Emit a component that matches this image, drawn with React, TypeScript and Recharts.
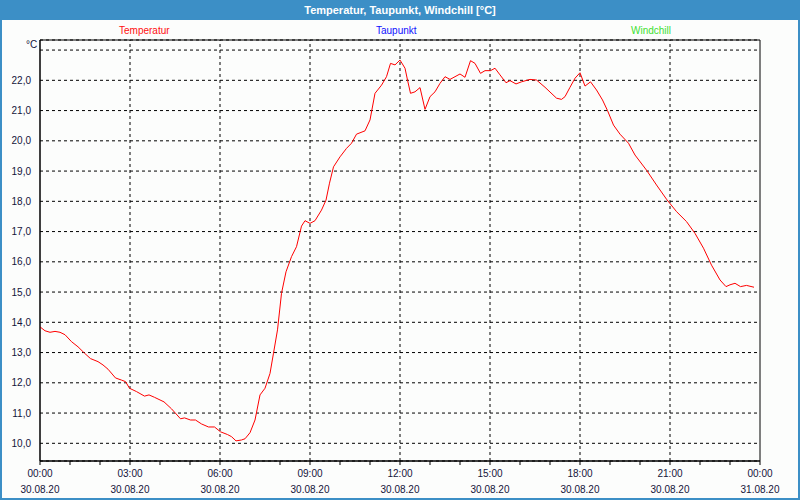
import { LineChart, Line, XAxis, YAxis, CartesianGrid, ReferenceLine, ReferenceArea } from 'recharts';

// minutes since 30.08.20 00:00
const minutes = [
  0, 10, 20, 30, 40, 50, 63, 76, 89, 101, 116, 126, 136, 151, 163, 171, 179, 193, 209, 218, 229, 248, 263, 281, 289,
  301, 311, 323, 337, 349, 361, 375, 383, 392, 403, 410, 420, 430, 440, 450, 460, 467, 475, 483, 492, 503, 513, 523,
  530, 540, 550, 563, 572, 579, 587, 600, 613, 623, 633, 650, 660, 670, 683, 693, 701, 710, 720, 730, 735, 741, 750,
  760, 770, 780, 790, 800, 810, 820, 840, 850, 861, 870, 881, 890, 901, 910, 920, 932, 940, 952, 963, 980, 993, 1010,
  1033, 1043, 1050, 1060, 1070, 1080, 1090, 1101, 1113, 1125, 1135, 1147, 1160, 1177, 1190, 1213, 1233, 1253, 1273,
  1293, 1310, 1327, 1343, 1360, 1372, 1380, 1390, 1401, 1413, 1428,
];
const temperatur = [
  13.85, 13.72, 13.67, 13.7, 13.67, 13.59, 13.36, 13.19, 12.98, 12.8, 12.7, 12.59, 12.45, 12.16, 12.09, 12.04, 11.82,
  11.71, 11.56, 11.6, 11.52, 11.37, 11.14, 10.81, 10.84, 10.77, 10.77, 10.64, 10.54, 10.54, 10.38, 10.29, 10.22, 10.08,
  10.11, 10.15, 10.35, 10.77, 11.6, 11.82, 12.31, 12.98, 13.75, 14.96, 15.67, 16.17, 16.5, 17.18, 17.36, 17.27, 17.36,
  17.71, 18.04, 18.6, 19.14, 19.47, 19.75, 19.92, 20.22, 20.33, 20.69, 21.57, 21.84, 22.12, 22.56, 22.51, 22.67, 22.4,
  22.01, 21.57, 21.62, 21.76, 21.04, 21.46, 21.62, 21.9, 22.12, 22.03, 22.21, 22.1, 22.65, 22.56, 22.23, 22.32, 22.32,
  22.4, 22.18, 21.92, 21.99, 21.88, 21.95, 22.03, 22.01, 21.77, 21.41, 21.37, 21.46, 21.77, 22.07, 22.25, 21.81, 21.95,
  21.68, 21.35, 21.0, 20.52, 20.22, 19.92, 19.53, 19.03, 18.54, 18.07, 17.66, 17.33, 16.94, 16.45, 15.89, 15.4, 15.18,
  15.24, 15.29, 15.18, 15.22, 15.16,
];

const hourTicks = [0, 60, 120, 180, 240, 300, 360, 420, 480, 540, 600, 660, 720, 780, 840, 900, 960, 1020, 1080, 1140, 1200, 1260, 1320, 1380, 1440];
const gridX = [180, 360, 540, 720, 900, 1080, 1260];
const tempTicks = [10, 11, 12, 13, 14, 15, 16, 17, 18, 19, 20, 21, 22, 23];
const legendItems = [
  { name: 'Temperatur', color: '#ff1010', left: 119 },
  { name: 'Taupunkt', color: '#1010ff', left: 376 },
  { name: 'Windchill', color: '#40e030', left: 631 },
];

const data = minutes.map((m, i) => ({ m, t: temperatur[i] }));

const FONT = '"Liberation Sans", Arial, sans-serif';
const TEXT = '#14143a';
const Y_MIN = 9.415;
const Y_MAX = 23.333;

function pad(n: number) {
  return n < 10 ? '0' + n : '' + n;
}

function TimeTick(props: any) {
  const { x, y, payload } = props;
  const v = payload.value as number;
  if (v % 180 !== 0) return null;
  const h = (v / 60) % 24;
  const date = v >= 1440 ? '31.08.20' : '30.08.20';
  return (
    <g>
      <text x={x} y={y + 10} textAnchor="middle" fontSize={10} fontFamily={FONT} fill={TEXT}>
        {pad(h) + ':00'}
      </text>
      <text x={x} y={y + 26} textAnchor="middle" fontSize={10} fontFamily={FONT} fill={TEXT}>
        {date}
      </text>
    </g>
  );
}

export default function App() {
  return (
    <div
      style={{
        position: 'fixed',
        left: 0,
        top: 0,
        width: 800,
        height: 500,
        boxSizing: 'border-box',
        background: '#fcfdfc',
        border: '2px solid #3c8fc6',
        borderTop: 'none',
        fontFamily: FONT,
      }}
    >
      <div
        style={{
          position: 'absolute',
          left: -2,
          top: 0,
          width: 800,
          height: 20,
          background: '#3c8fc6',
          color: '#fff',
          fontWeight: 'bold',
          fontSize: 11,
          lineHeight: '20px',
          textAlign: 'center',
        }}
      >
        Temperatur, Taupunkt, Windchill [°C]
      </div>
      {legendItems.map((it) => (
        <div
          key={it.name}
          style={{ position: 'absolute', left: it.left - 2, top: 25, fontSize: 10, color: it.color }}
        >
          {it.name}
        </div>
      ))}
      <div style={{ position: 'absolute', left: 24, top: 39, fontSize: 10, color: TEXT }}>°C</div>
      <div style={{ position: 'absolute', left: -2, top: 0 }}>
        <LineChart width={800} height={500} data={data} margin={{ top: 40, right: 40, bottom: 4, left: 0 }}>
          <CartesianGrid vertical={false} stroke="#000" strokeDasharray="3 3" />
          <XAxis
            dataKey="m"
            type="number"
            domain={[0, 1440]}
            ticks={hourTicks}
            interval={0}
            height={35}
            axisLine={{ stroke: '#000' }}
            tickLine={{ stroke: '#000' }}
            tickSize={4}
            tick={<TimeTick />}
          />
          <YAxis
            type="number"
            domain={[Y_MIN, Y_MAX]}
            ticks={tempTicks}
            interval={0}
            width={40}
            allowDataOverflow
            axisLine={{ stroke: '#000' }}
            tickLine={false}
            tickMargin={3}
            tick={{ fontSize: 10, fontFamily: FONT, fill: TEXT }}
            tickFormatter={(v: number) => (v >= 23 ? '' : v.toFixed(1).replace('.', ','))}
          />
          {gridX.map((x) => (
            <ReferenceLine key={x} x={x} stroke="#000" strokeDasharray="3 3" />
          ))}
          <ReferenceArea x1={0} x2={1440} y1={Y_MIN} y2={Y_MAX} fill="none" stroke="#000" strokeWidth={1} />
          <Line
            type="linear"
            dataKey="t"
            stroke="#ff0000"
            strokeWidth={1}
            dot={false}
            isAnimationActive={false}
          />
        </LineChart>
      </div>
    </div>
  );
}
